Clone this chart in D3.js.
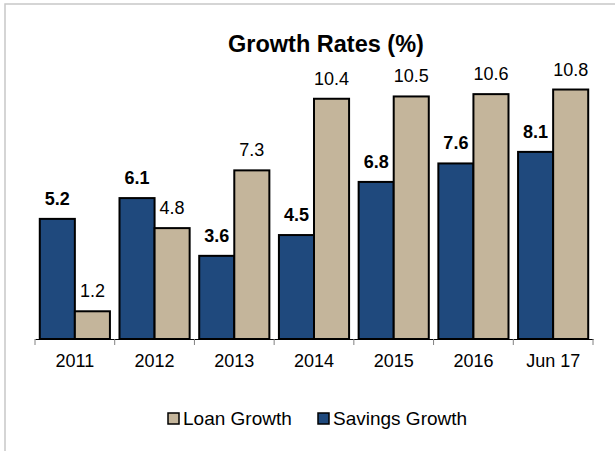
<!DOCTYPE html>
<html>
<head>
<meta charset="utf-8">
<script src="https://cdn.jsdelivr.net/npm/d3@7"></script>
<style>
  html, body { margin: 0; padding: 0; background: #fff; }
  svg { display: block; font-family: Arial, "Liberation Sans", sans-serif; }
</style>
</head>
<body>
<svg id="chart" width="615" height="451"></svg>
<script>
const categories = ["2011", "2012", "2013", "2014", "2015", "2016", "Jun 17"];
const savingsGrowth = [5.2, 6.1, 3.6, 4.5, 6.8, 7.6, 8.1];
const loanGrowth = [1.2, 4.8, 7.3, 10.4, 10.5, 10.6, 10.8];
const seriesNames = ["Savings Growth", "Loan Growth"];
const legendOrder = ["Loan Growth", "Savings Growth"];

const colors = { "Savings Growth": "#1F497D", "Loan Growth": "#C4B59B" };
const values = { "Savings Growth": savingsGrowth, "Loan Growth": loanGrowth };

const svg = d3.select("#chart");

// outer frame
svg.append("rect")
  .attr("x", 5).attr("y", 4)
  .attr("width", 640).attr("height", 480)
  .attr("fill", "none")
  .attr("stroke", "#C8C8C8")
  .attr("stroke-width", 1.5);

// title
svg.append("text")
  .attr("x", 326).attr("y", 52)
  .attr("text-anchor", "middle")
  .attr("font-size", 23.5)
  .attr("font-weight", "bold")
  .attr("fill", "#000")
  .text("Growth Rates (%)");

const x = d3.scaleBand()
  .domain(categories)
  .range([35, 593])
  .paddingInner(0.12)
  .paddingOuter(0.06);

const xs = d3.scaleBand()
  .domain(seriesNames)
  .range([0, x.bandwidth()]);

const y = d3.scaleLinear()
  .domain([0, 12])
  .range([339, 339 - 12 * 23.1]);

const rows = categories.map((c, i) => ({ c, i }));

const groups = svg.append("g")
  .selectAll("g")
  .data(rows)
  .join("g")
  .attr("transform", d => `translate(${x(d.c)},0)`);

groups.selectAll("rect")
  .data(d => seriesNames.map(s => ({ s, v: values[s][d.i] })))
  .join("rect")
  .attr("x", d => xs(d.s))
  .attr("y", d => y(d.v))
  .attr("width", xs.bandwidth())
  .attr("height", d => y(0) - y(d.v))
  .attr("fill", d => colors[d.s])
  .attr("stroke", "#000")
  .attr("stroke-width", 2);

groups.selectAll("text")
  .data(d => seriesNames.map(s => ({ s, v: values[s][d.i] })))
  .join("text")
  .attr("x", d => xs(d.s) + xs.bandwidth() / 2)
  .attr("y", d => y(d.v) - 14)
  .attr("text-anchor", "middle")
  .attr("font-size", 18)
  .attr("font-weight", d => d.s === "Savings Growth" ? "bold" : "normal")
  .attr("fill", "#000")
  .text(d => d.v.toFixed(1));

// category axis
const axis = svg.append("g")
  .attr("transform", "translate(0,339)")
  .call(d3.axisBottom(x).tickSize(0).tickPadding(0));
axis.select(".domain").attr("stroke", "#000").attr("stroke-width", 1);
axis.selectAll(".tick text")
  .attr("font-size", 18)
  .attr("fill", "#000")
  .attr("dy", null)
  .attr("y", 28);

// ticks at band boundaries
const boundaries = categories.map(c => x(c) - x.step() * x.paddingInner() / 2);
boundaries.push(x.range()[1]);
axis.selectAll(".sep")
  .data(boundaries)
  .join("line")
  .attr("class", "sep")
  .attr("x1", d => d).attr("x2", d => d)
  .attr("y1", 0).attr("y2", 6)
  .attr("stroke", "#808080")
  .attr("stroke-width", 1);

// legend
const legendPos = [168, 318];
const legend = svg.append("g")
  .selectAll("g")
  .data(legendOrder)
  .join("g")
  .attr("transform", (d, i) => `translate(${legendPos[i]},413)`);
legend.append("rect")
  .attr("width", 11).attr("height", 11)
  .attr("fill", d => colors[d])
  .attr("stroke", "#000")
  .attr("stroke-width", 1.5);
legend.append("text")
  .attr("x", 15).attr("y", 12)
  .attr("font-size", 19)
  .attr("fill", "#000")
  .text(d => d);
</script>
</body>
</html>
